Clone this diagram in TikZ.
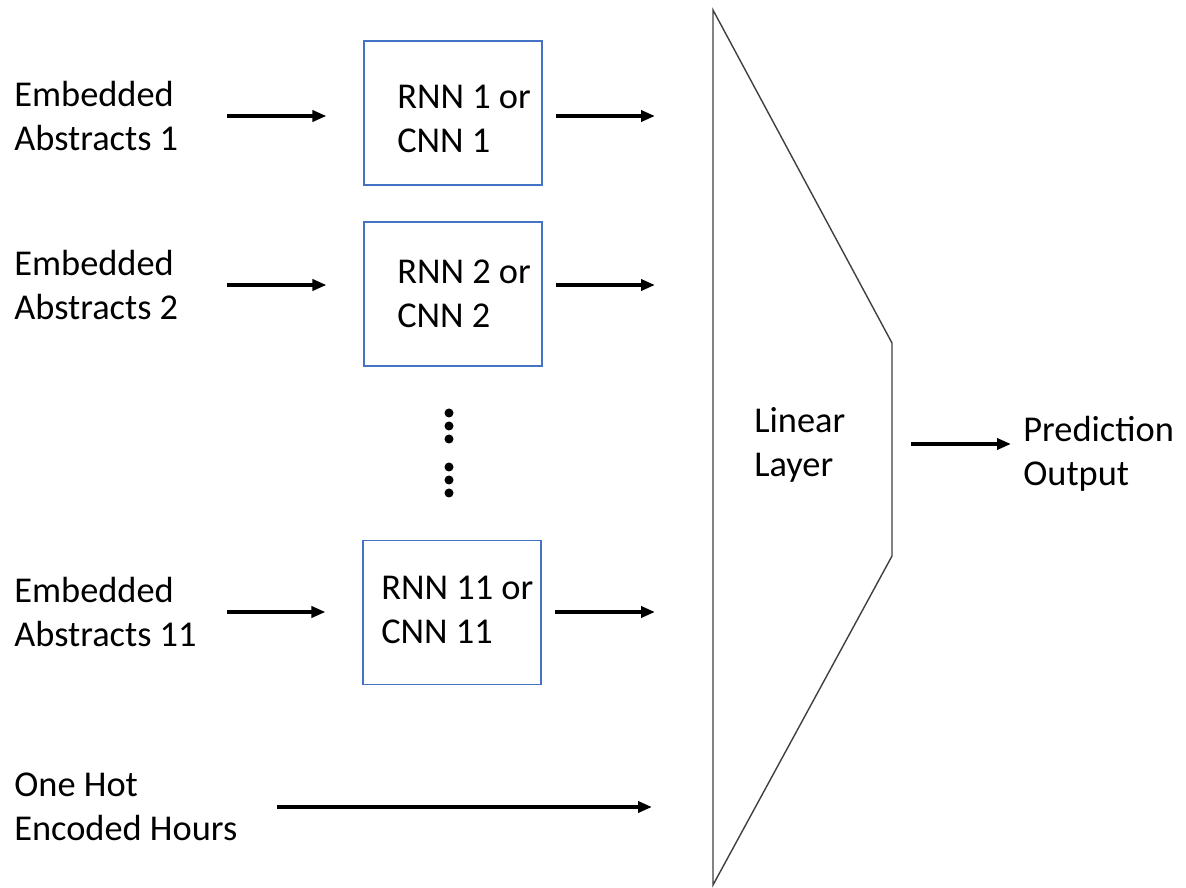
\documentclass[tikz,border=0pt]{standalone}
\usepackage{fontspec}
\setmainfont{Carlito}
\usetikzlibrary{arrows.meta}

\definecolor{boxblue}{RGB}{68,114,196}
\definecolor{layergray}{RGB}{64,64,64}

\begin{document}
\begin{tikzpicture}[
  txt/.style={inner sep=0pt, align=left, anchor=west, font=\fontsize{20.7}{25.2}\selectfont},
  netbox/.style={draw=boxblue, line width=0.6pt, minimum width=3.56cm, minimum height=2.88cm},
  arr/.style={-{Triangle[length=0.28cm, width=0.22cm]}, line width=2.1pt},
  layer/.style={draw=layergray, line width=0.8pt}
]
  \useasboundingbox (0,0) rectangle (23.72,-17.76);
  \coordinate (tl) at (14.26,-0.2);
  \coordinate (tr) at (17.84,-6.86);
  \coordinate (br) at (17.84,-11.12);
  \coordinate (bl) at (14.26,-17.7);
  \coordinate (mid) at (17.84,-8.88);
  \coordinate (in) at (4.54,0);
  \coordinate (hin) at (5.54,0);
  \draw[layer] (tl) -- (tr) -- (br) -- (bl) -- cycle;

  \node[txt] (emb1) at (0.28,-2.32) {Embedded\\Abstracts 1};
  \node[txt] (emb2) at (0.28,-5.70) {Embedded\\Abstracts 2};
  \node[txt] (emb3) at (0.28,-12.24) {Embedded\\Abstracts 11};
  \node[txt] (hours) at (0.28,-16.14) {One Hot\\Encoded Hours};

  \node[netbox] (box1) at (9.06,-2.26) {};
  \node[netbox] (box2) at (9.06,-5.88) {};
  \node[netbox] (box3) at (9.04,-12.25) {};
  \node[txt] (rnn1) at (7.94,-2.38) {RNN 1 or\\CNN 1};
  \node[txt] (rnn2) at (7.94,-5.88) {RNN 2 or\\CNN 2};
  \node[txt] (rnn3) at (7.62,-12.2) {RNN 11 or\\CNN 11};

  \node[txt] (lin) at (15.08,-8.9) {Linear\\Layer};
  \node[txt] (pred) at (20.46,-9.08) {Prediction\\Output};

  \foreach \n in {1,2,3} {
    \draw[arr, shorten >=0.74cm] (emb\n -| in) -- (emb\n -| box\n.west);
    \draw[arr, shorten <=0.26cm, shorten >=1.16cm] (box\n.east |- emb\n) -- (tl |- emb\n);
  }
  \draw[arr, shorten >=1.22cm] (hours -| hin) -- (tl |- hours);
  \draw[arr, shorten <=0.38cm, shorten >=0.24cm] (mid) -- (mid -| pred.west);

  \foreach \y in {413,426,439,467,480,493}
    \fill (8.98,-\y/50) circle (0.09);
\end{tikzpicture}
\end{document}
